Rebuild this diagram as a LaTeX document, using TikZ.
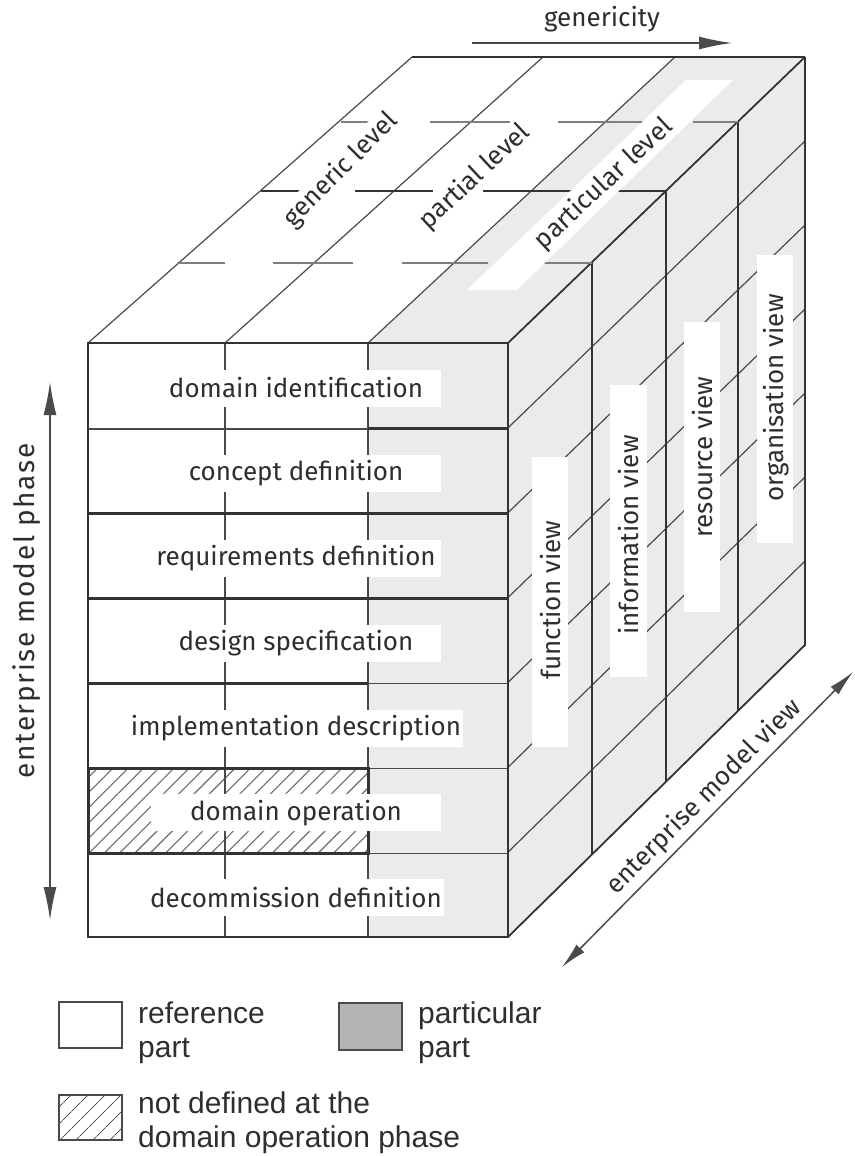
\documentclass[tikz,border=0pt]{standalone}
\usepackage{fontspec}
\setmainfont{Fira Sans}
\newfontfamily\legfont{Liberation Sans}
\newfontfamily\spacedfont[LetterSpace=6]{Fira Sans}
\usetikzlibrary{arrows.meta,patterns.meta,calc}
\definecolor{facegray}{HTML}{EBEBEB}
\definecolor{linec}{HTML}{333333}
\definecolor{thinc}{HTML}{4A4A4A}
\definecolor{dashgray}{HTML}{7E7E7E}
\definecolor{hatchc}{HTML}{6A6A6A}
\definecolor{leggray}{HTML}{B4B4B4}
\definecolor{txtc}{HTML}{2E2E2E}
\tikzset{
  thinl/.style={draw=thinc,line width=1.2pt},
  medl/.style={draw=linec,line width=1.8pt},
  thickl/.style={draw=linec,line width=3pt},
  viewl/.style={draw=linec,line width=2.6pt},
  dashg/.style={draw=dashgray,line width=2pt},
  dashk/.style={draw=linec,line width=2.2pt},
  lab/.style={font=\fontsize{26}{30}\selectfont,text=txtc,inner sep=0pt},
  rowlab/.style={lab,fill=white,minimum width=290pt,minimum height=37pt,inner xsep=2pt},
  toplab/.style={lab,fill=white,inner sep=2pt},
  leg/.style={font=\legfont\fontsize{30}{34}\selectfont,text=txtc,inner sep=0pt,anchor=base west},
  arr/.style={draw=thinc,line width=1.5pt},
}
\begin{document}
\begin{tikzpicture}[x=1pt,y=-1pt]
\useasboundingbox (0,0) rectangle (854,1156);
% corners
\coordinate (FTL) at (88,343);
\coordinate (FTR) at (508,343);
\coordinate (FBL) at (88,937);
\coordinate (FBR) at (508,937);
\coordinate (BTL) at (412,57);
\coordinate (BTR) at (805,57);
\coordinate (BBR) at (805,645);
\coordinate (C1F) at (225,343);
\coordinate (C2F) at (368,343);
\coordinate (C1B) at (543,57);
\coordinate (C2B) at (675,57);
% fills
\fill[facegray] (C2F) -- (FTR) -- (BTR) -- (C2B) -- cycle;
\fill[facegray] (FTR) -- (BTR) -- (BBR) -- (FBR) -- cycle;
\fill[facegray] (368,343) rectangle (508,937);
\fill[pattern={Lines[angle=45,distance=10.8pt,line width=1.1pt]},pattern color=hatchc] (88,768.3) rectangle (368,853.1);
% top face lines
\draw[thinl] (FTL) -- (BTL);
\draw[thinl] (C1F) -- (C1B);
\draw[thinl] (C2F) -- (C2B);
\draw[medl] (FTR) -- (BTR);
\draw[medl] (BTL) -- (BTR);
% right face rows
\foreach \k in {1,...,6}{
  \draw[thinl] (508,{343+84.857*\k}) -- (805,{57+84*\k});
}
% view separators
\coordinate (V1T) at (592,262.1); \coordinate (V1B) at (592,854.4);
\coordinate (V2T) at (666,190.8); \coordinate (V2B) at (666,781.7);
\coordinate (V3T) at (738,121.5); \coordinate (V3B) at (738,710.9);
\draw[viewl] (V1T) -- (V1B);
\draw[viewl] (V2T) -- (V2B);
\draw[viewl] (V3T) -- (V3B);
% dashed lines on top face
\foreach \a/\b in {177/225,273/353,402/488,533/592}{\draw[dashg] (\a,262.5) -- (\b,262.5);}
\foreach \a/\b in {261/307,355/433,483/666}{\draw[dashk] (\a,191) -- (\b,191);}
\foreach \a/\b in {341/380,430/510,558/647,693/738}{\draw[dashg] (\a,121.5) -- (\b,121.5);}
% white band for particular level
\fill[white] (467,290) -- (517,290) -- (733,80) -- (686,80) -- cycle;
% front face
\draw[thinl] (225,343) -- (225,937);
\draw[thinl] (368,343) -- (368,937);
\draw[thinl] (88,428.9) -- (368,428.9);
\draw[thickl] (368,428.9) -- (508,428.9);
\draw[thickl] (88,513.7) -- (508,513.7);
\draw[thickl] (88,598.6) -- (508,598.6);
\draw[thickl] (88,683.4) -- (368,683.4);
\draw[thinl] (368,683.4) -- (508,683.4);
\draw[thinl] (368,768.3) -- (508,768.3);
\draw[thinl] (368,853.1) -- (508,853.1);
\draw[thickl] (88,768.3) rectangle (368,853.1);
\draw[medl] (FTL) -- (FTR) -- (FBR) -- (FBL) -- cycle;
\draw[medl] (BTR) -- (BBR) -- (FBR);
% front labels
\node[rowlab] (l1) at (296,388) {domain identification};
\node[rowlab] (l2) at (296,473) {concept definition};
\node[rowlab] (l3) at (296,558) {requirements definition};
\node[rowlab] (l4) at (296,643) {design specification};
\node[rowlab] (l5) at (296,728) {implementation description};
\node[rowlab] (l6) at (296,812.7) {domain operation};
\node[rowlab] (l7) at (296,897.6) {decommission definition};
% top labels
\node[toplab,rotate=45] (tg) at (341,170) {generic level};
\node[toplab,rotate=43] (tp) at (475,177) {partial level};
\node[lab,rotate=43] (tq) at (604,184) {particular level};
% right face labels
\fill[white] (532,457) rectangle (568,747);
\fill[white] (610,385) rectangle (647,677);
\fill[white] (684,322) rectangle (720,612);
\fill[white] (757,255) rectangle (793,543);
\node[lab,rotate=90] (vf) at (551,600) {function view};
\node[lab,rotate=90] (vi) at (629,535) {information view};
\node[lab,rotate=90] (vr) at (703,457) {resource view};
\node[lab,rotate=90] (vo) at (776,398) {organisation view};
% arrows
\coordinate (PhT) at (50,382);
\coordinate (PhB) at (50,920);
\draw[arr,{Latex[length=33pt,width=13pt]}-{Latex[length=33pt,width=13pt]}] (PhT) -- (PhB);
\node[lab,font=\spacedfont\fontsize{28}{32}\selectfont,rotate=90] (phase) at (27,611) {enterprise model phase};
\coordinate (GeA) at (472,43);
\coordinate (GeB) at (732,43);
\draw[arr,-{Latex[length=33pt,width=13pt]}] (GeA) -- (GeB);
\node[lab] (gen) at (602,19) {genericity};
\coordinate (EvA) at (562,967);
\coordinate (EvB) at (853,672);
\draw[arr,{Latex[length=26pt,width=11pt]}-{Latex[length=26pt,width=11pt]}] (EvA) -- (EvB);
\node[lab,rotate=45] (ev) at (704,797) {enterprise model view};
% legend
\draw[draw=thinc,line width=1.6pt,fill=white] (59,1002) rectangle (122,1048);
\draw[draw=thinc,line width=1.6pt,fill=leggray] (339,1003) rectangle (402,1050);
\fill[pattern={Lines[angle=45,distance=13pt,line width=1pt]},pattern color=thinc] (59,1095) rectangle (122,1140);
\draw[draw=thinc,line width=1.6pt] (59,1095) rectangle (122,1140);
\node[leg] (r1) at (138,1023) {reference};
\node[leg] (r2) at (138,1057) {part};
\node[leg] (p1) at (418,1023) {particular};
\node[leg] (p2) at (418,1057) {part};
\node[leg] (n1) at (138,1113) {not defined at the};
\node[leg] (n2) at (138,1147) {domain operation phase};
\end{tikzpicture}
\end{document}
